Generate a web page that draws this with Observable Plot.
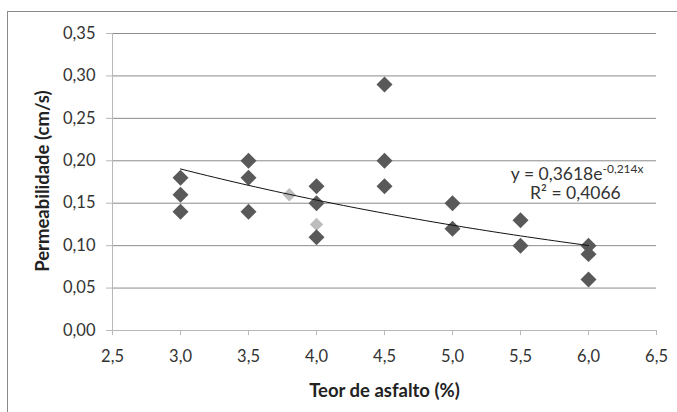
<!DOCTYPE html>
<html><head><meta charset="utf-8">
<script src="https://cdn.jsdelivr.net/npm/d3@7"></script>
<script src="https://cdn.jsdelivr.net/npm/@observablehq/plot@0.6"></script>
<style>
body{margin:0;background:#fff;width:677px;height:412px;overflow:hidden;position:relative;font-family:Lato,sans-serif}
#frame{position:absolute;left:7px;top:11px;width:700px;height:450px;border:1.5px solid #8a8a8a}
#chart{position:absolute;left:0;top:0}
</style></head><body><div id="frame"></div><div id="chart"></div>
<script>
// Data
const teor = [3.0, 3.0, 3.0, 3.5, 3.5, 3.5, 4.0, 4.0, 4.0, 4.5, 4.5, 4.5, 5.0, 5.0, 5.5, 5.5, 6.0, 6.0, 6.0];
const perm = [0.18, 0.16, 0.14, 0.20, 0.18, 0.14, 0.17, 0.15, 0.11, 0.29, 0.20, 0.17, 0.15, 0.12, 0.13, 0.10, 0.10, 0.09, 0.06];
// faint (partly hidden) points
const teorFaint = [3.8, 4.0];
const permFaint = [0.16, 0.125];
const xTicks = [2.5, 3.0, 3.5, 4.0, 4.5, 5.0, 5.5, 6.0, 6.5];
const yTicks = [0.00, 0.05, 0.10, 0.15, 0.20, 0.25, 0.30, 0.35];
const trendA = 0.3618, trendB = -0.214;
const trendFrom = 3.0, trendTo = 6.0;
const eqMain = "y = 0,3618e";
const eqSup = "-0,214x";
const r2Text = "R² = 0,4066";
const xLabel = "Teor de asfalto (%)";
const yLabel = "Permeabilidade (cm/s)";

const points = teor.map((x, i) => ({x, y: perm[i]}));
const faint = teorFaint.map((x, i) => ({x, y: permFaint[i]}));
const trend = d3.range(trendFrom, trendTo + 1e-9, 0.05).map(x => ({x, y: trendA * Math.exp(trendB * x)}));
const fx = d => d.toFixed(1).replace(".", ",");
const fy = d => d.toFixed(2).replace(".", ",");

const chart = Plot.plot({
  width: 677, height: 412,
  marginLeft: 112, marginRight: 21, marginTop: 33, marginBottom: 82,
  style: {fontFamily: "Lato, sans-serif", fontSize: "16.5px", background: "transparent", color: "#333"},
  x: {domain: [2.5, 6.5]},
  y: {domain: [0, 0.35]},
  marks: [
    Plot.gridY(yTicks.filter(d => d > 0), {stroke: "#8c8c8c", strokeOpacity: 1}),
    Plot.ruleX([2.5], {stroke: "#b8b8b8"}),
    Plot.ruleY([0], {stroke: "#b8b8b8"}),
    Plot.axisY({ticks: yTicks, tickFormat: fy, tickSize: 6, tickPadding: 11, stroke: "#b8b8b8", label: null, fill: "#333"}),
    Plot.axisX({ticks: xTicks, tickFormat: fx, tickSize: 5, tickPadding: 15, stroke: "#b8b8b8", label: null, fill: "#333"}),
    Plot.text([yLabel], {frameAnchor: "left", y: [0.176], rotate: -90, dx: -69, textAnchor: "middle", lineAnchor: "middle", fontWeight: "bold", fontSize: 18.5, fill: "#222"}),
    Plot.text([xLabel], {frameAnchor: "bottom", dy: 61, textAnchor: "middle", lineAnchor: "middle", fontWeight: "bold", fontSize: 18.5, fill: "#222"}),
    Plot.dot(faint, {x: "x", y: "y", symbol: "diamond2", r: 6, fill: "#bdbdbd", stroke: "none"}),
    Plot.dot(points, {x: "x", y: "y", symbol: "diamond2", r: 7.2, fill: "#595959", stroke: "none"}),
    Plot.line(trend, {x: "x", y: "y", stroke: "#111", strokeWidth: 1}),
    Plot.text([eqMain], {x: 6.103, y: 0.1835, textAnchor: "end", fontSize: 17.5, fill: "#333"}),
    Plot.text([eqSup], {x: 6.103, y: 0.1835, dy: -6, textAnchor: "start", fontSize: 12, fill: "#333"}),
    Plot.text([r2Text], {x: 5.904, y: 0.161, fontSize: 17.5, fill: "#333"})
  ]
});
document.getElementById("chart").appendChild(chart);
</script>
</body></html>
